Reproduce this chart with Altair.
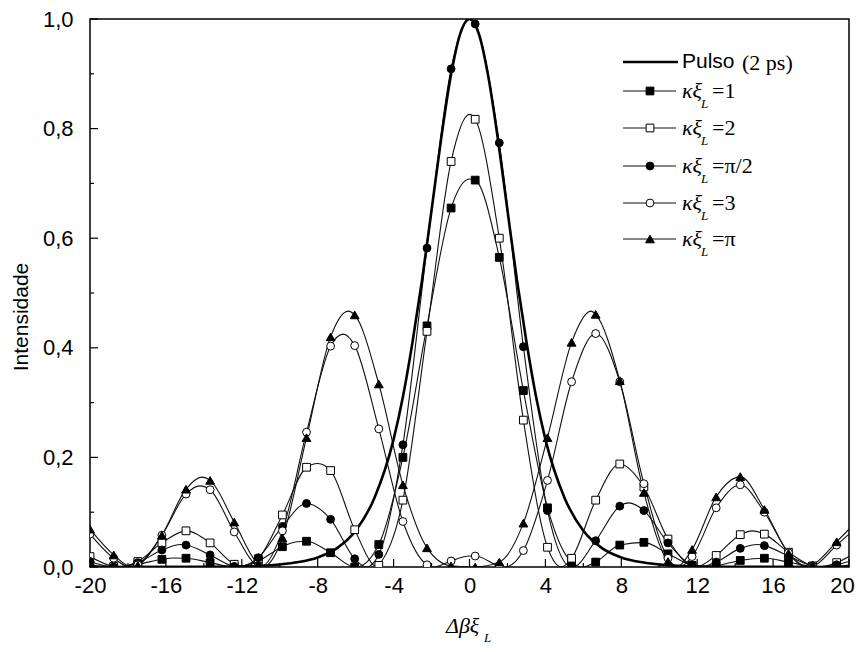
import altair as alt
import pandas as pd

# ---------------- data ----------------
X_MARK = [-20.0, -18.75, -17.48, -16.21, -14.94, -13.67, -12.40, -11.13, -9.86, -8.59,
          -7.32, -6.05, -4.78, -3.51, -2.24, -0.97, 0.30, 1.57, 2.84, 4.11,
          5.38, 6.65, 7.92, 9.19, 10.46, 11.73, 13.00, 14.27, 15.54, 16.81, 18.08, 19.35]

Y_K1 = [0.004, 0.000, 0.005, 0.014, 0.016, 0.008, 0.000, 0.011, 0.037, 0.047,
        0.026, 0.000, 0.041, 0.200, 0.440, 0.655, 0.706, 0.565, 0.322, 0.108,
        0.009, 0.009, 0.040, 0.045, 0.024, 0.003, 0.002, 0.012, 0.016, 0.009, 0.001, 0.001]
Y_K2 = [0.019, 0.001, 0.010, 0.044, 0.066, 0.044, 0.005, 0.015, 0.095, 0.182,
        0.176, 0.068, 0.003, 0.122, 0.430, 0.740, 0.817, 0.600, 0.268, 0.036,
        0.016, 0.122, 0.188, 0.146, 0.051, 0.001, 0.021, 0.059, 0.060, 0.027, 0.002, 0.008]
Y_KPI2 = [0.010, 0.000, 0.008, 0.031, 0.040, 0.022, 0.001, 0.017, 0.074, 0.116,
          0.087, 0.015, 0.023, 0.223, 0.582, 0.909, 0.991, 0.774, 0.402, 0.103,
          0.000, 0.048, 0.111, 0.103, 0.044, 0.003, 0.009, 0.034, 0.039, 0.020, 0.002, 0.004]
Y_K3 = [0.060, 0.016, 0.004, 0.058, 0.133, 0.141, 0.064, 0.001, 0.066, 0.246,
        0.403, 0.404, 0.252, 0.083, 0.004, 0.011, 0.020, 0.002, 0.030, 0.158,
        0.338, 0.426, 0.338, 0.152, 0.016, 0.019, 0.108, 0.150, 0.100, 0.026, 0.001, 0.040]
Y_KPI = [0.069, 0.022, 0.003, 0.058, 0.142, 0.158, 0.082, 0.005, 0.053, 0.236,
         0.420, 0.460, 0.334, 0.150, 0.035, 0.002, 0.000, 0.009, 0.080, 0.236,
         0.410, 0.461, 0.340, 0.136, 0.010, 0.032, 0.128, 0.165, 0.105, 0.025, 0.004, 0.046]

# extra curve points read between symbols (zeros, apexes, right edge)
EX_K1_X = [-18.74, -15.6, -12.41, -9.1, -5.96, 0.0, 5.96, 12.41, 18.74, 20.0]
EX_K1_Y = [0.0, 0.0163, 0.0, 0.046, 0.0, 0.708, 0.0, 0.0, 0.0, 0.0035]
EX_K2_X = [-18.42, -11.91, -8.0, -4.85, 0.0, 4.85, 11.91, 14.9, 18.42, 20.0]
EX_K2_Y = [0.0, 0.0, 0.189, 0.0, 0.826, 0.0, 0.0, 0.066, 0.0, 0.019]
EX_KPI2_X = [-18.59, -15.2, -12.17, -5.44, 0.0, 5.44, 8.4, 12.17, 15.2, 18.59, 20.0]
EX_KPI2_Y = [0.0, 0.041, 0.0, 0.0, 1.0, 0.0, 0.117, 0.0, 0.041, 0.0, 0.010]
EX_K3_X = [-17.87, -14.2, -11.04, -6.65, -1.87, 0.0, 1.87, 11.04, 17.87, 20.0]
EX_K3_Y = [0.0, 0.148, 0.0, 0.425, 0.0, 0.020, 0.0, 0.0, 0.0, 0.060]
EX_KPI_X = [-17.77, -14.1, -10.88, -6.4, 0.0, 6.4, 10.88, 14.1, 17.77, 20.0]
EX_KPI_Y = [0.0, 0.164, 0.0, 0.467, 0.0, 0.467, 0.0, 0.164, 0.0, 0.069]

PULSE_X = [-20, -14, -12, -11, -10, -9, -8, -7, -6, -5, -4, -3.5, -3, -2.5, -2, -1.5, -1, -0.5,
           0, 0.5, 1, 1.5, 2, 2.5, 3, 3.5, 4, 5, 6, 7, 8, 9, 10, 11, 12, 14, 20]
PULSE_Y = [0.0, 0.0003, 0.0012, 0.0023, 0.0046, 0.009, 0.0175, 0.034, 0.066, 0.127, 0.233, 0.312,
           0.411, 0.524, 0.651, 0.780, 0.893, 0.972, 1.0, 0.972, 0.893, 0.780, 0.651, 0.524, 0.411,
           0.312, 0.233, 0.127, 0.066, 0.034, 0.0175, 0.009, 0.0046, 0.0023, 0.0012, 0.0003, 0.0]

XT_MAJOR = [-20, -16, -12, -8, -4, 0, 4, 8, 12, 16, 20]
XT_MINOR = [-18, -14, -10, -6, -2, 2, 6, 10, 14, 18]
YT_MAJOR = [0.0, 0.2, 0.4, 0.6, 0.8, 1.0]
YT_MINOR = [0.1, 0.3, 0.5, 0.7, 0.9]

LEG_PULSE = ["Pulso", "(2 ps)"]
LEG_VALUES = ["=1", "=2", "=\u03c0/2", "=3", "=\u03c0"]

# ---------------- chart ----------------
W, H = 759, 548
INK = "#111111"
xs = alt.Scale(domain=[-20, 20], nice=False, zero=False)
ys = alt.Scale(domain=[0, 1], nice=False)

x_axis = alt.Axis(values=XT_MAJOR, labelExpr="'' + datum.value", title=None,
                  labelPadding=8, labelFontSize=22, labelFlush=False, labelOverlap=False,
                  labelBound=False,
                  labelOffset={"condition": {"test": "datum.value == 20", "value": -7}, "value": 0})
y_axis = alt.Axis(values=YT_MAJOR, labelExpr="replace(format(datum.value, '.1f'), '.', ',')",
                  title=None, labelPadding=17, labelFontSize=22, labelFlush=False,
                  labelOverlap=False, labelBound=False)


def X(field="x"):
    return alt.X(f"{field}:Q", scale=xs, axis=x_axis)


def Y(field="y"):
    return alt.Y(f"{field}:Q", scale=ys, axis=y_axis)


def curve_df(xm, ym, xe, ye):
    df = pd.DataFrame({"x": list(xm) + list(xe), "y": list(ym) + list(ye)})
    return df.sort_values("x").reset_index(drop=True)


series = [
    (Y_K1, EX_K1_X, EX_K1_Y, "square", True),
    (Y_K2, EX_K2_X, EX_K2_Y, "square", False),
    (Y_KPI2, EX_KPI2_X, EX_KPI2_Y, "circle", True),
    (Y_K3, EX_K3_X, EX_K3_Y, "circle", False),
    (Y_KPI, EX_KPI_X, EX_KPI_Y, "triangle-up", True),
]
SIZES = {"square": 60, "circle": 62, "triangle-up": 78}

layers = []
# ticks (inward)
layers.append(alt.Chart(pd.DataFrame({"x": XT_MAJOR})).mark_rule(color="black", strokeWidth=1.2)
              .encode(x=X(), y=alt.value(H), y2=alt.value(H - 8)))
layers.append(alt.Chart(pd.DataFrame({"x": XT_MINOR})).mark_rule(color="black", strokeWidth=1.2)
              .encode(x=X(), y=alt.value(H), y2=alt.value(H - 4)))
layers.append(alt.Chart(pd.DataFrame({"y": YT_MAJOR})).mark_rule(color="black", strokeWidth=1.2)
              .encode(y=Y(), x=alt.value(0), x2=alt.value(8)))
layers.append(alt.Chart(pd.DataFrame({"y": YT_MINOR})).mark_rule(color="black", strokeWidth=1.2)
              .encode(y=Y(), x=alt.value(0), x2=alt.value(4)))

# curves
for ym, xe, ye, shape, filled in series:
    layers.append(alt.Chart(curve_df(X_MARK, ym, xe, ye))
                  .mark_line(color=INK, strokeWidth=1.1, interpolate="monotone", clip=True)
                  .encode(x=X(), y=Y()))

layers.append(alt.Chart(pd.DataFrame({"x": PULSE_X, "y": PULSE_Y}))
              .mark_line(color="black", strokeWidth=2.6, interpolate="monotone", clip=True)
              .encode(x=X(), y=Y()))

# symbols
for ym, xe, ye, shape, filled in series:
    layers.append(alt.Chart(pd.DataFrame({"x": X_MARK, "y": ym}))
                  .mark_point(shape=shape, size=SIZES[shape], filled=True,
                              fill=("black" if filled else "white"),
                              stroke="black", strokeWidth=1, opacity=1, clip=True)
                  .encode(x=X(), y=Y()))

# ---------------- legend (drawn) ----------------
one = pd.DataFrame({"a": [0]})
LX0, LX1, LXM, LTX = 533, 586, 560, 592
LY_PULSE = 43
LY = [72, 109, 147, 184, 220]

layers.append(alt.Chart(one).mark_rule(color="black", strokeWidth=2.6)
              .encode(x=alt.value(LX0), x2=alt.value(LX1 + 2), y=alt.value(LY_PULSE)))
layers.append(alt.Chart(pd.DataFrame({"t": [LEG_PULSE[0]]}))
              .mark_text(align="left", baseline="middle", font="Liberation Sans", fontSize=21, color="black")
              .encode(text="t:N", x=alt.value(LTX), y=alt.value(LY_PULSE)))
layers.append(alt.Chart(pd.DataFrame({"t": [LEG_PULSE[1]]}))
              .mark_text(align="left", baseline="middle", font="Liberation Serif", fontSize=22, color="black")
              .encode(text="t:N", x=alt.value(LTX + 60), y=alt.value(LY_PULSE + 1)))

for (ym, xe, ye, shape, filled), yy, lab in zip(series, LY, LEG_VALUES):
    layers.append(alt.Chart(one).mark_rule(color=INK, strokeWidth=1.1)
                  .encode(x=alt.value(LX0), x2=alt.value(LX1), y=alt.value(yy)))
    layers.append(alt.Chart(one).mark_point(shape=shape, size=SIZES[shape], filled=True,
                                            fill=("black" if filled else "white"),
                                            stroke="black", strokeWidth=1, opacity=1)
                  .encode(x=alt.value(LXM), y=alt.value(yy)))
    layers.append(alt.Chart(pd.DataFrame({"t": ["\u03ba\u03be"]}))
                  .mark_text(align="left", baseline="middle", font="Liberation Serif", fontStyle="italic",
                             fontSize=22, color="black")
                  .encode(text="t:N", x=alt.value(LTX), y=alt.value(yy)))
    layers.append(alt.Chart(pd.DataFrame({"t": ["L"]}))
                  .mark_text(align="left", baseline="middle", font="Liberation Serif", fontStyle="italic",
                             fontSize=13, color="black")
                  .encode(text="t:N", x=alt.value(LTX + 19), y=alt.value(yy + 13)))
    layers.append(alt.Chart(pd.DataFrame({"t": [lab]}))
                  .mark_text(align="left", baseline="middle", font="Liberation Serif",
                             fontSize=22, color="black")
                  .encode(text="t:N", x=alt.value(LTX + 30), y=alt.value(yy)))

# ---------------- axis titles (drawn) ----------------
layers.append(alt.Chart(pd.DataFrame({"t": ["Intensidade"]}))
              .mark_text(align="center", baseline="middle", font="Liberation Sans", fontSize=21,
                         color="black", angle=270)
              .encode(text="t:N", x=alt.value(-68), y=alt.value(298)))
layers.append(alt.Chart(pd.DataFrame({"t": ["\u0394\u03b2\u03be"]}))
              .mark_text(align="left", baseline="middle", font="Liberation Serif", fontStyle="italic",
                         fontSize=22, color="black")
              .encode(text="t:N", x=alt.value(356), y=alt.value(H + 59)))
layers.append(alt.Chart(pd.DataFrame({"t": ["L"]}))
              .mark_text(align="left", baseline="middle", font="Liberation Serif", fontStyle="italic",
                         fontSize=13, color="black")
              .encode(text="t:N", x=alt.value(394), y=alt.value(H + 71)))

chart = (alt.layer(*layers)
         .properties(width=W, height=H, background="white",
                     padding={"left": 82, "top": 11, "right": 7, "bottom": 77},
                     autosize=alt.AutoSizeParams(type="none"))
         .configure_view(stroke="black", strokeWidth=1.5)
         .configure_axis(domain=False, ticks=False, tickSize=0, grid=False,
                         labelFont="Liberation Sans", labelColor="black"))

chart.save("out.html", embed_options={"renderer": "svg", "actions": False})
